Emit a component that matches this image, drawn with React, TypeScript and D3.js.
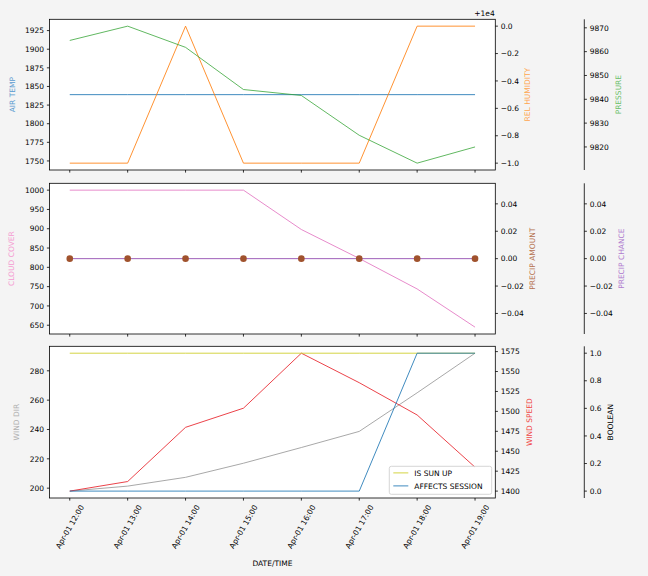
import React from "react";
import * as d3 from "d3";

// ---------- DATA ----------
const TIMES = [
  "2024-04-01 12:00", "2024-04-01 13:00", "2024-04-01 14:00", "2024-04-01 15:00",
  "2024-04-01 16:00", "2024-04-01 17:00", "2024-04-01 18:00", "2024-04-01 19:00",
];
const AIR_TEMP = [1839, 1839, 1839, 1839, 1839, 1839, 1839, 1839];
const REL_HUMIDITY = [9999, 9999, 10000, 9999, 9999, 9999, 10000, 10000];
const PRESSURE = [9864.7, 9870.7, 9861.8, 9844.1, 9841.6, 9824.9, 9813.2, 9820];
const CLOUD_COVER = [1000, 1000, 1000, 1000, 898, 823, 744, 645];
const PRECIP_AMOUNT = [0, 0, 0, 0, 0, 0, 0, 0];
const PRECIP_CHANCE = [0, 0, 0, 0, 0, 0, 0, 0];
const WIND_DIR = [198, 201.4, 207.4, 217, 227.7, 238.7, 265, 292];
const WIND_SPEED = [1400, 1412, 1480, 1504, 1573, 1536, 1495.5, 1430];
const IS_SUN_UP = [1, 1, 1, 1, 1, 1, 1, 1];
const AFFECTS_SESSION = [0, 0, 0, 0, 0, 0, 1, 1];

const AIR_TEMP_TICKS = [1750, 1775, 1800, 1825, 1850, 1875, 1900, 1925];
const REL_HUM_TICKS = [9999, 9999.2, 9999.4, 9999.6, 9999.8, 10000];
const PRESSURE_TICKS = [9820, 9830, 9840, 9850, 9860, 9870];
const CLOUD_TICKS = [650, 700, 750, 800, 850, 900, 950, 1000];
const PRECIP_TICKS = [-0.04, -0.02, 0, 0.02, 0.04];
const WIND_DIR_TICKS = [200, 220, 240, 260, 280];
const WIND_SPEED_TICKS = [1400, 1425, 1450, 1475, 1500, 1525, 1550, 1575];
const BOOL_TICKS = [0, 0.2, 0.4, 0.6, 0.8, 1.0];
const LEGEND_LABELS = ["IS SUN UP", "AFFECTS SESSION"];

// ---------- LAYOUT ----------
const W = 648, H = 576;
const PL = 49.5, PR = 495.3;
const X3 = 584.3;
const PANELS = [
  { top: 19.3, bottom: 170 },
  { top: 183.3, bottom: 334 },
  { top: 346.3, bottom: 498 },
];
const FONT = "DejaVu Sans, sans-serif";
const FS = 7.5;
const TICK = 2.6;

const parse = d3.timeParse("%Y-%m-%d %H:%M");
const dates = TIMES.map((t) => parse(t) as Date);
const fmtTime = d3.timeFormat("%b-%d %H:%M");

function mplDomain(vals: number[]): [number, number] {
  let lo = d3.min(vals) as number;
  let hi = d3.max(vals) as number;
  if (lo === hi) {
    const e = lo === 0 ? 0.05 : Math.abs(lo) * 0.05;
    lo -= e;
    hi += e;
  }
  const m = (hi - lo) * 0.05;
  return [lo - m, hi + m];
}

const t0 = dates[0].getTime();
const t1 = dates[dates.length - 1].getTime();
const tm = (t1 - t0) * 0.05;
const x = d3.scaleTime().domain([new Date(t0 - tm), new Date(t1 + tm)]).range([PL, PR]);

const mfmt = (spec: string) => (v: number) => d3.format(spec)(v).replace("-", "\u2212");

function yScale(vals: number[], p: number) {
  return d3.scaleLinear().domain(mplDomain(vals)).range([PANELS[p].bottom, PANELS[p].top]);
}

type AxisProps = {
  xpos: number;
  side: "left" | "right";
  scale: d3.ScaleLinear<number, number>;
  ticks: number[];
  format: (v: number) => string;
  spine?: boolean;
  p: number;
};

function YAxis({ xpos, side, scale, ticks, format, spine, p }: AxisProps) {
  const dir = side === "left" ? -1 : 1;
  return (
    <g>
      {spine && (
        <line x1={xpos} x2={xpos} y1={PANELS[p].top} y2={PANELS[p].bottom} stroke="#000" strokeWidth={0.8} />
      )}
      {ticks.map((t, i) => {
        const y = scale(t);
        return (
          <g key={i}>
            <line x1={xpos} x2={xpos + dir * TICK} y1={y} y2={y} stroke="#000" strokeWidth={0.8} />
            <text
              x={xpos + dir * 5.4}
              y={y}
              dy="0.36em"
              textAnchor={side === "left" ? "end" : "start"}
              fontSize={FS}
              fontFamily={FONT}
              fill="#000"
            >
              {format(t)}
            </text>
          </g>
        );
      })}
    </g>
  );
}

function VLabel({ xc, p, text, color }: { xc: number; p: number; text: string; color: string }) {
  const yc = (PANELS[p].top + PANELS[p].bottom) / 2;
  return (
    <text
      transform={`translate(${xc},${yc}) rotate(-90)`}
      textAnchor="middle"
      dy="0.36em"
      fontSize={FS}
      fontFamily={FONT}
      fill={color}
    >
      {text}
    </text>
  );
}

function Series({ vals, scale, color, opacity = 0.85 }: { vals: number[]; scale: d3.ScaleLinear<number, number>; color: string; opacity?: number }) {
  const line = d3
    .line<number>()
    .x((_, i) => x(dates[i]))
    .y((v) => scale(v));
  return <path d={line(vals) as string} fill="none" stroke={color} strokeWidth={1} strokeOpacity={opacity} />;
}

export default function App() {
  // panel 0
  const yAir = yScale(AIR_TEMP, 0);
  const yHum = yScale(REL_HUMIDITY, 0);
  const yPres = yScale(PRESSURE, 0);
  // panel 1
  const yCloud = yScale(CLOUD_COVER, 1);
  const yPAmt = yScale(PRECIP_AMOUNT, 1);
  const yPCh = yScale(PRECIP_CHANCE, 1);
  // panel 2
  const yWDir = yScale(WIND_DIR, 2);
  const yWSpd = yScale(WIND_SPEED, 2);
  const yBool = yScale([...IS_SUN_UP, ...AFFECTS_SESSION], 2);

  const humFmt = (v: number) => d3.format(".1f")(v - 10000).replace("-", "\u2212");

  // rotated x tick labels
  const labW = 49.2;
  const bboxH = labW * Math.sin(Math.PI / 3) + 8.7 * Math.cos(Math.PI / 3);
  const labTop = PANELS[2].bottom + TICK + 2.6;
  const labCy = labTop + bboxH / 2;

  const legX = 389.3, legY = 466.3, legW = 102.4, legH = 28;

  return (
    <svg width={W} height={H} style={{ position: "absolute", left: 0, top: 0 }} xmlns="http://www.w3.org/2000/svg">
      <rect x={0} y={0} width={W} height={H} fill="#f4f4f4" />
      {PANELS.map((pn, i) => (
        <rect key={i} x={PL} y={pn.top} width={PR - PL} height={pn.bottom - pn.top} fill="#fff" />
      ))}

      {/* Panel 0 */}
      <Series vals={AIR_TEMP} scale={yAir} color="#1f77b4" />
      <Series vals={REL_HUMIDITY} scale={yHum} color="#ff7f0e" />
      <Series vals={PRESSURE} scale={yPres} color="#2ca02c" opacity={0.75} />

      {/* Panel 1 */}
      <Series vals={CLOUD_COVER} scale={yCloud} color="#e377c2" />
      <Series vals={PRECIP_CHANCE} scale={yPCh} color="#8e44ad" />
      {PRECIP_AMOUNT.map((v, i) => (
        <circle key={i} cx={x(dates[i])} cy={yPAmt(v)} r={3.3} fill="#a0522d" />
      ))}

      {/* Panel 2 */}
      <Series vals={WIND_DIR} scale={yWDir} color="#999999" />
      <Series vals={WIND_SPEED} scale={yWSpd} color="#e8222a" />
      <Series vals={IS_SUN_UP} scale={yBool} color="#cccc22" />
      <Series vals={AFFECTS_SESSION} scale={yBool} color="#1f77b4" />

      {/* frames */}
      {PANELS.map((pn, i) => (
        <rect key={i} x={PL} y={pn.top} width={PR - PL} height={pn.bottom - pn.top} fill="none" stroke="#000" strokeWidth={0.8} />
      ))}

      {/* x ticks */}
      {PANELS.map((pn, p) =>
        dates.map((d, i) => (
          <line key={`${p}-${i}`} x1={x(d)} x2={x(d)} y1={pn.bottom} y2={pn.bottom + TICK} stroke="#000" strokeWidth={0.8} />
        ))
      )}
      {dates.map((d, i) => (
        <text
          key={i}
          transform={`translate(${x(d)},${labCy}) rotate(-60)`}
          textAnchor="middle"
          dy="0.36em"
          fontSize={FS}
          fontFamily={FONT}
          fill="#000"
        >
          {fmtTime(d)}
        </text>
      ))}
      <text x={(PL + PR) / 2} y={565.5} textAnchor="middle" fontSize={FS} fontFamily={FONT} fill="#000">
        DATE/TIME
      </text>

      {/* Axes panel 0 */}
      <YAxis xpos={PL} side="left" scale={yAir} ticks={AIR_TEMP_TICKS} format={mfmt("d")} p={0} />
      <YAxis xpos={PR} side="right" scale={yHum} ticks={REL_HUM_TICKS} format={humFmt} p={0} />
      <YAxis xpos={X3} side="right" scale={yPres} ticks={PRESSURE_TICKS} format={mfmt("d")} spine p={0} />
      <text x={484.5} y={15.5} textAnchor="middle" fontSize={FS} fontFamily={FONT} fill="#000">+1e4</text>
      <VLabel xc={12.3} p={0} text="AIR TEMP" color="#5b9bd0" />
      <VLabel xc={527.7} p={0} text="REL HUMIDITY" color="#ffa54f" />
      <VLabel xc={618.3} p={0} text="PRESSURE" color="#6cbf6c" />

      {/* Axes panel 1 */}
      <YAxis xpos={PL} side="left" scale={yCloud} ticks={CLOUD_TICKS} format={mfmt("d")} p={1} />
      <YAxis xpos={PR} side="right" scale={yPAmt} ticks={PRECIP_TICKS} format={mfmt(".2f")} p={1} />
      <YAxis xpos={X3} side="right" scale={yPCh} ticks={PRECIP_TICKS} format={mfmt(".2f")} spine p={1} />
      <VLabel xc={11.7} p={1} text="CLOUD COVER" color="#f59bd2" />
      <VLabel xc={532.7} p={1} text="PRECIP AMOUNT" color="#b5714e" />
      <VLabel xc={621.7} p={1} text="PRECIP CHANCE" color="#b07ccf" />

      {/* Axes panel 2 */}
      <YAxis xpos={PL} side="left" scale={yWDir} ticks={WIND_DIR_TICKS} format={mfmt("d")} p={2} />
      <YAxis xpos={PR} side="right" scale={yWSpd} ticks={WIND_SPEED_TICKS} format={mfmt("d")} p={2} />
      <YAxis xpos={X3} side="right" scale={yBool} ticks={BOOL_TICKS} format={mfmt(".1f")} spine p={2} />
      <VLabel xc={16.7} p={2} text="WIND DIR" color="#b0b0b0" />
      <VLabel xc={529} p={2} text="WIND SPEED" color="#f04545" />
      <VLabel xc={610.7} p={2} text="BOOLEAN" color="#000" />

      {/* legend */}
      <rect x={legX} y={legY} width={legW} height={legH} rx={2} fill="#fff" fillOpacity={0.8} stroke="#cccccc" strokeWidth={0.8} />
      {LEGEND_LABELS.map((lab, i) => {
        const yy = legY + 6.6 + i * 13;
        const col = i === 0 ? "#cccc22" : "#1f77b4";
        return (
          <g key={lab}>
            <line x1={legX + 4} x2={legX + 19} y1={yy} y2={yy} stroke={col} strokeWidth={1} strokeOpacity={0.85} />
            <text x={legX + 25} y={yy} dy="0.36em" fontSize={FS} fontFamily={FONT} fill="#000">
              {lab}
            </text>
          </g>
        );
      })}
    </svg>
  );
}
